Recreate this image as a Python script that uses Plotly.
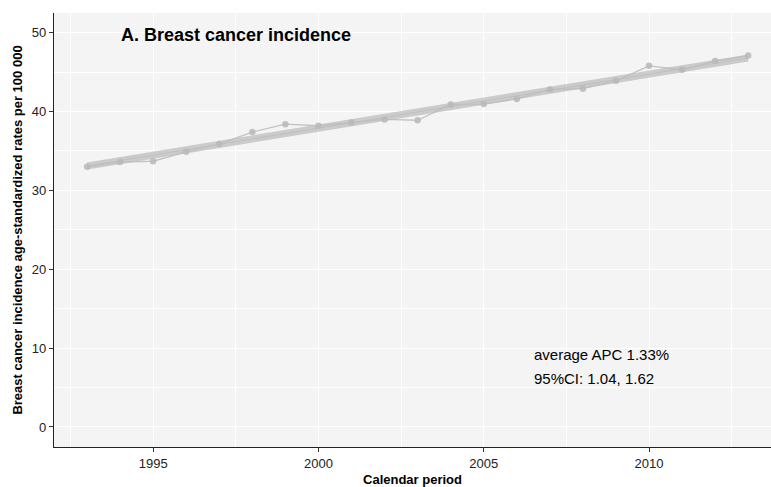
import plotly.graph_objects as go

# Observed age-standardized incidence rates per 100 000
years = list(range(1993, 2014))
observed = [33.0, 33.6, 33.7, 34.9, 35.9, 37.4, 38.4, 38.2, 38.6, 39.0, 38.9,
            40.9, 40.95, 41.6, 42.8, 42.9, 43.9, 45.8, 45.3, 46.4, 47.1]

# Fitted trend lines (start / end of the modelled period)
fit_years = [1993, 2013]
fit_upper = [33.3, 47.0]
fit_lower = [32.9, 46.6]

title_text = "A. Breast cancer incidence"
apc_lines = ["average APC 1.33%", "95%CI: 1.04, 1.62"]

font_family = "Liberation Sans, Arial, Helvetica, sans-serif"

fig = go.Figure()

for fy in (fit_upper, fit_lower):
    fig.add_trace(go.Scatter(
        x=fit_years, y=fy, mode="lines",
        line=dict(color="rgba(185,185,185,0.7)", width=4),
        hoverinfo="skip", showlegend=False))

fig.add_trace(go.Scatter(
    x=years, y=observed, mode="lines+markers",
    line=dict(color="rgba(190,190,190,0.9)", width=1.3),
    marker=dict(color="rgba(185,185,185,0.85)", size=6.5),
    showlegend=False))

fig.add_annotation(x=1993.98, y=49.7, xref="x", yref="y", text=f"<b>{title_text}</b>",
                   showarrow=False, xanchor="left", yanchor="middle",
                   font=dict(size=18, color="black", family=font_family))

fig.add_annotation(x=2006.47, y=9.2, xref="x", yref="y", text=apc_lines[0],
                   showarrow=False, xanchor="left", yanchor="middle",
                   font=dict(size=15, color="black", family=font_family))
fig.add_annotation(x=2006.47, y=6.2, xref="x", yref="y", text=apc_lines[1],
                   showarrow=False, xanchor="left", yanchor="middle",
                   font=dict(size=15, color="black", family=font_family))

fig.update_layout(
    width=771, height=487,
    margin=dict(l=54, r=0, t=13, b=40),
    paper_bgcolor="white",
    plot_bgcolor="#f4f4f4",
    font=dict(family=font_family, size=13, color="#222222"),
    xaxis=dict(
        range=[1992.0, 2013.69],
        tickmode="array", tickvals=[1995, 2000, 2005, 2010],
        ticks="outside", ticklen=4, tickcolor="#333333",
        showline=True, linecolor="#222222", linewidth=1.2,
        showgrid=True, gridcolor="white", gridwidth=1.3,
        minor=dict(tickmode="array", tickvals=[1992.5, 1997.5, 2002.5, 2007.5, 2012.5],
                   showgrid=True, gridcolor="white", gridwidth=0.6, ticks=""),
        zeroline=False,
        title=dict(text="<b>Calendar period</b>", standoff=6,
                   font=dict(size=13, color="black")),
        tickfont=dict(size=13, color="#222222"),
    ),
    yaxis=dict(
        range=[-2.54, 52.5],
        tickmode="array", tickvals=[0, 10, 20, 30, 40, 50],
        ticks="outside", ticklen=4, tickcolor="#333333",
        showline=True, linecolor="#222222", linewidth=1.2,
        showgrid=True, gridcolor="white", gridwidth=1.3,
        minor=dict(tickmode="array", tickvals=[5, 15, 25, 35, 45],
                   showgrid=True, gridcolor="white", gridwidth=0.6, ticks=""),
        zeroline=False,
        title=dict(text="<b>Breast cancer incidence age-standardized rates per 100 000</b>",
                   standoff=6, font=dict(size=13, color="black")),
        tickfont=dict(size=13, color="#222222"),
    ),
)

fig.write_html("out.html")
